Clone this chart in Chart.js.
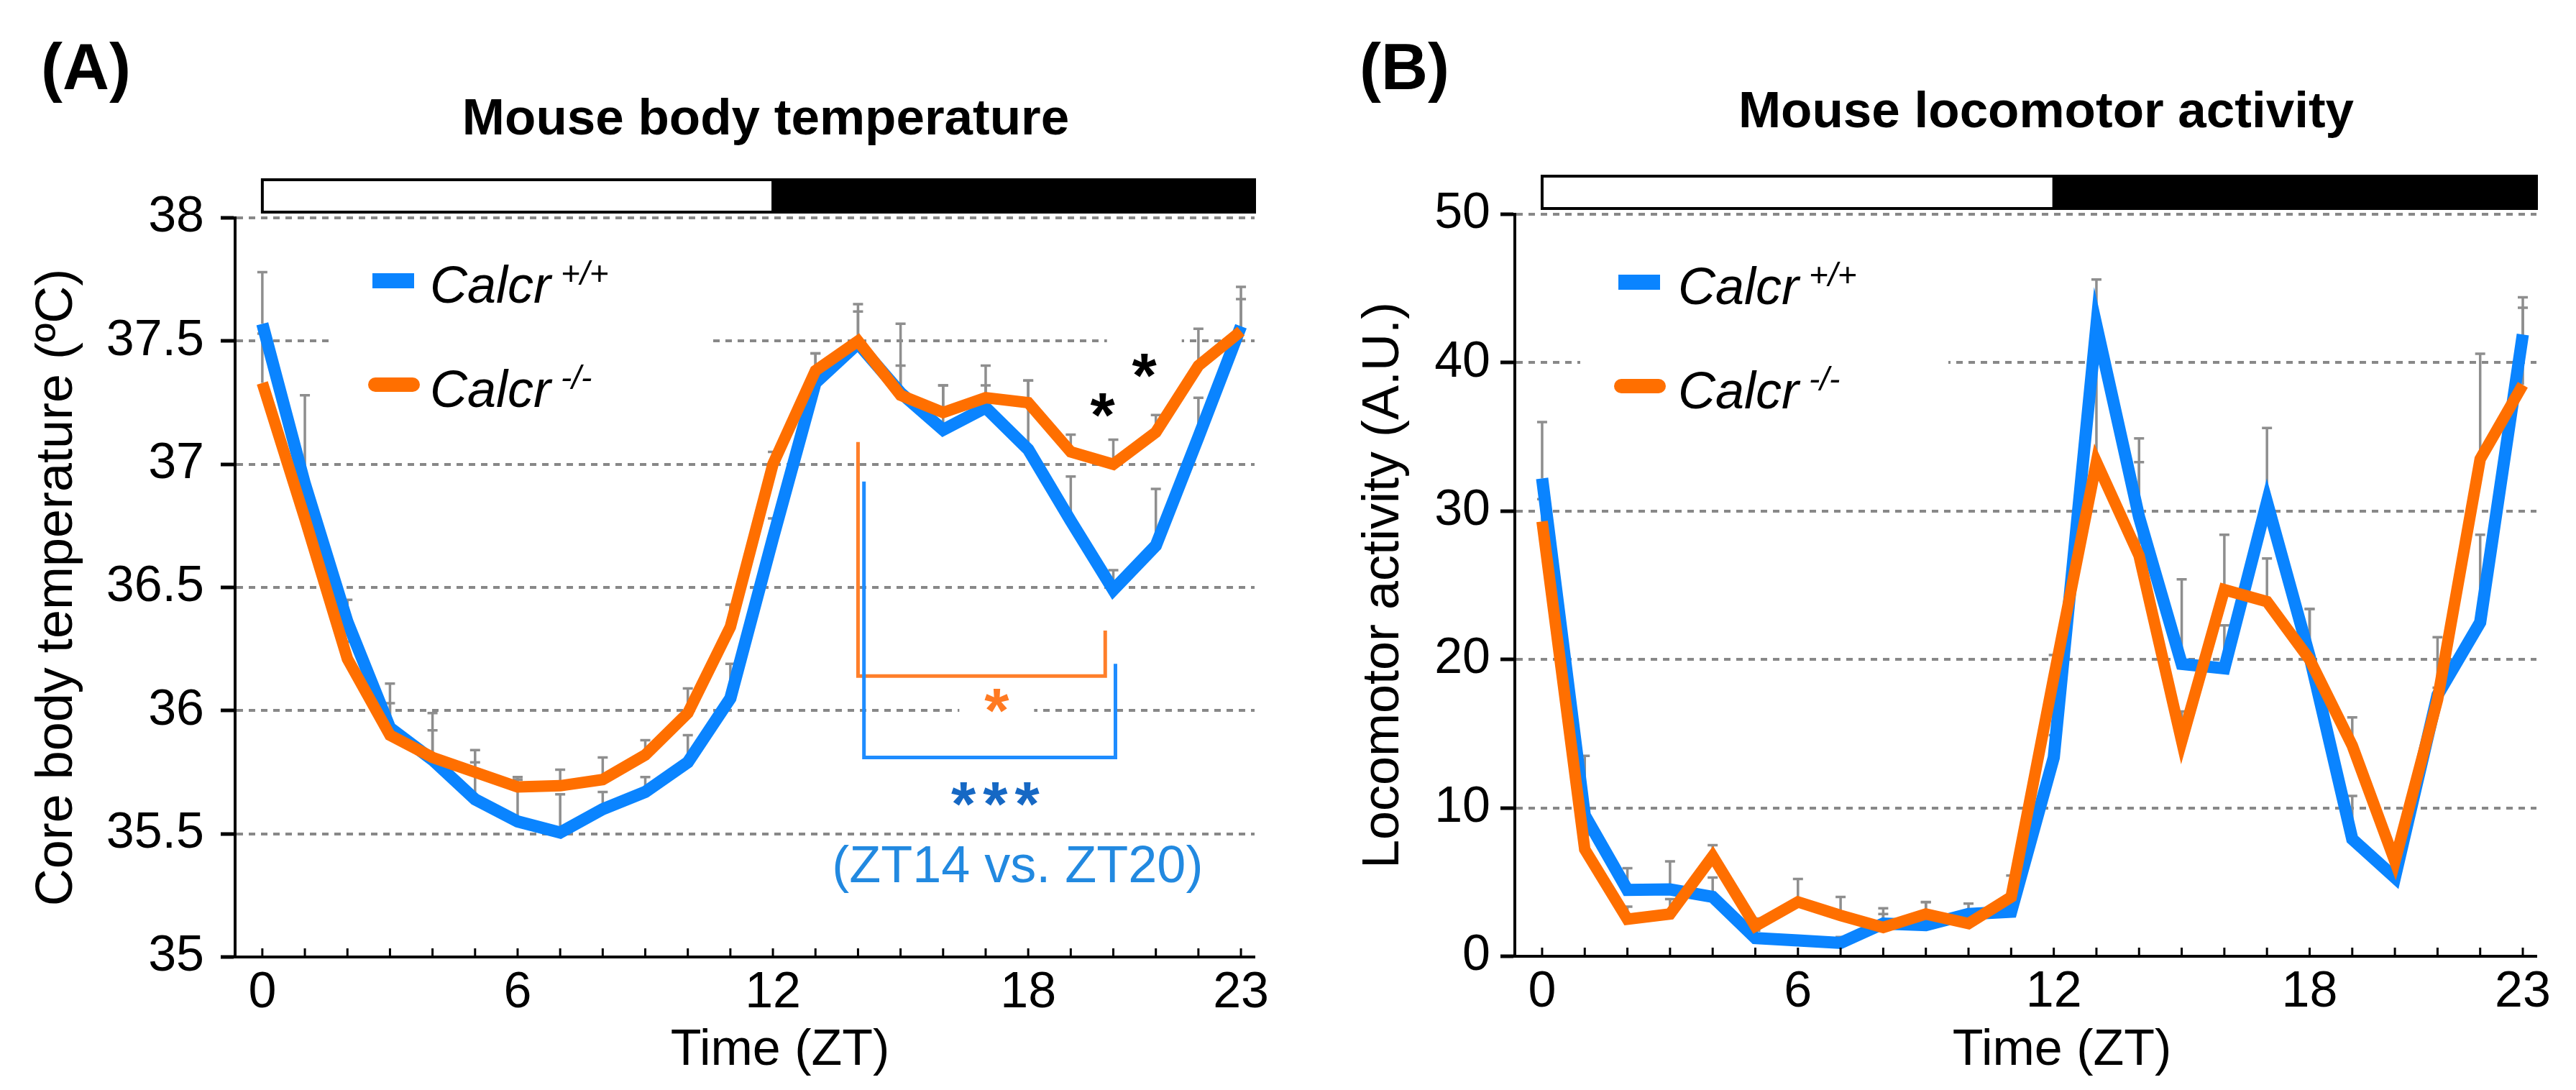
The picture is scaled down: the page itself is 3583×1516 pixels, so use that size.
<!DOCTYPE html>
<html>
<head>
<meta charset="utf-8">
<script src="https://cdn.jsdelivr.net/npm/chart.js@4/dist/chart.umd.min.js"></script>
<style>
  html, body { margin: 0; padding: 0; background: #fff; }
  body { width: 3583px; height: 1516px; position: relative; overflow: hidden; }
  canvas { position: absolute; top: 0; }
  #tempChart { left: 0; }
  #activityChart { left: 1790px; }
</style>
</head>
<body>
<canvas id="tempChart" width="1790" height="1516"></canvas>
<canvas id="activityChart" width="1793" height="1516"></canvas>
<script>
var hours = [0, 1, 2, 3, 4, 5, 6, 7, 8, 9, 10, 11, 12, 13, 14, 15, 16, 17, 18, 19, 20, 21, 22, 23];
var timeTicks = [0, 6, 12, 18, 23];
var tempTicks = [35, 35.5, 36, 36.5, 37, 37.5, 38];
var activityTicks = [0, 10, 20, 30, 40, 50];
var seriesNames = ['Calcr', 'Calcr'];
var genotypes = ['+/+', '-/-'];
var lightDark = [[0, 12, 'light'], [12, 24, 'dark']];

// (A) core body temperature, mean and SEM
var tempWild = [37.57, 36.92, 36.36, 35.93, 35.80, 35.64, 35.55, 35.505, 35.60, 35.67, 35.79, 36.05,
  36.70, 37.33, 37.49, 37.29, 37.14, 37.23, 37.06, 36.77, 36.49, 36.67, 37.11, 37.56];
var tempWildSem = [0.21, 0.36, 0.09, 0.18, 0.19, 0.20, 0.18, 0.155, 0.07, 0.06, 0.11, 0.14,
  0.08, 0.12, 0.16, 0.28, 0.18, 0.17, 0.28, 0.18, 0.08, 0.23, 0.16, 0.16];
var tempKO = [37.33, 36.78, 36.21, 35.90, 35.81, 35.75, 35.69, 35.695, 35.72, 35.82, 35.99, 36.34,
  37.00, 37.38, 37.50, 37.28, 37.21, 37.27, 37.25, 37.05, 37.00, 37.13, 37.40, 37.54];
var tempKOSem = [0.20, 0.10, 0.07, 0.13, 0.11, 0.04, 0.03, 0.065, 0.09, 0.06, 0.10, 0.09,
  0.05, 0.07, 0.12, 0.12, 0.11, 0.05, 0.09, 0.07, 0.10, 0.07, 0.15, 0.13];

// (B) locomotor activity, mean and SEM
var activityWild = [32.2, 9.5, 4.47, 4.5, 4.0, 1.23, 1.07, 0.9, 2.2, 2.1, 2.85, 3.0,
  13.4, 42.5, 29.6, 19.7, 19.4, 30.6, 20.2, 7.9, 5.3, 17.6, 22.5, 41.9];
var activityWildSem = [3.8, 4.0, 1.46, 1.9, 1.3, 0.5, 0.3, 0.4, 0.65, 1.56, 0.7, 0.6,
  1.5, 3.1, 5.3, 5.7, 2.9, 5.0, 3.2, 2.9, 0.6, 0.5, 5.9, 2.5];
var activityKO = [29.3, 7.2, 2.5, 2.85, 6.74, 2.04, 3.66, 2.75, 1.94, 2.85, 2.2, 4.0,
  18.8, 33.3, 27.0, 14.5, 24.7, 23.9, 20.0, 14.2, 6.4, 17.3, 33.5, 38.5];
var activityKOSem = [1.5, 1.0, 0.84, 1.0, 0.75, 0.5, 1.55, 1.25, 1.3, 0.8, 0.6, 1.44,
  1.5, 8.5, 6.3, 2.0, 3.7, 2.9, 3.4, 1.9, 0.5, 4.2, 7.1, 5.2];

// significance marks on panel A (ZT, value)
var tempStars = [
  { x: 19.75, y: 37.24, text: '*', color: '#000', font: 'bold 88px', mask: true },
  { x: 20.73, y: 37.40, text: '*', color: '#000', font: 'bold 88px', mask: true },
  { x: 17.26, y: 36.04, text: '*', color: '#ff7a22', font: 'bold 88px', mask: true },
  { x: 17.31, y: 35.66, text: '***', color: '#1668c4', font: 'bold 88px', spacing: '10px' }
];
var tempBrackets = [
  { from: 14.0, to: 19.81, top1: 37.09, top2: 36.325, base: 36.14, color: '#ff7f2a' },
  { from: 14.14, to: 20.05, top1: 36.93, top2: 36.19, base: 35.81, color: '#1e8cff' }
];
var tempNote = { x: 17.75, y: 35.38, text: '(ZT14 vs. ZT20)', color: '#2289e0' };

var BLUE = '#0a84ff';
var ORANGE = '#ff6f00';
var FONT = "'Liberation Sans', Arial, Helvetica, sans-serif";

Chart.defaults.font.family = FONT;
Chart.defaults.color = '#000';

function points(vals) {
  return hours.map(function (h, i) { return { x: h, y: vals[i] }; });
}

function decor(cfg) {
  return {
    id: 'decor',
    beforeDatasetsDraw: function (chart) {
      var ctx = chart.ctx, xs = chart.scales.x, ys = chart.scales.y, a = chart.chartArea;
      ctx.save();
      // white patches that break the dotted grid behind the legend and stars
      ctx.fillStyle = '#fff';
      var b = cfg.legend.box;
      ctx.fillRect(a.left + b[0], a.top + b[1], b[2], b[3]);
      (cfg.stars || []).forEach(function (m) {
        if (m.mask) ctx.fillRect(xs.getPixelForValue(m.x) - 52, ys.getPixelForValue(m.y) - 40, 104, 80);
      });
      // upward error bars (mean to mean + SEM)
      ctx.strokeStyle = '#8e8e8e';
      ctx.lineWidth = 3.5;
      cfg.errors.forEach(function (e) {
        hours.forEach(function (h, i) {
          var px = xs.getPixelForValue(h);
          var y0 = ys.getPixelForValue(e.mean[i]);
          var y1 = ys.getPixelForValue(e.mean[i] + e.sem[i]);
          ctx.beginPath();
          ctx.moveTo(px, y0);
          ctx.lineTo(px, y1);
          ctx.moveTo(px - 7, y1);
          ctx.lineTo(px + 7, y1);
          ctx.stroke();
        });
      });
      ctx.restore();
    },
    afterDraw: function (chart) {
      var ctx = chart.ctx, xs = chart.scales.x, ys = chart.scales.y, a = chart.chartArea;
      ctx.save();

      // light / dark bar
      var barTop = a.top - 55, barH = 49;
      lightDark.forEach(function (p) {
        var x0 = xs.getPixelForValue(p[0]);
        var x1 = Math.min(xs.getPixelForValue(p[1]), a.right + 2);
        if (p[2] === 'dark') {
          ctx.fillStyle = '#000';
          ctx.fillRect(x0, barTop, x1 - x0, barH);
        } else {
          ctx.strokeStyle = '#000';
          ctx.lineWidth = 4;
          ctx.strokeRect(x0, barTop + 2, x1 - x0, barH - 4);
        }
      });

      // hourly ticks pointing into the plot
      ctx.strokeStyle = '#000';
      ctx.lineWidth = 3;
      ctx.beginPath();
      hours.forEach(function (h) {
        var px = xs.getPixelForValue(h);
        ctx.moveTo(px, a.bottom);
        ctx.lineTo(px, a.bottom - 12);
      });
      ctx.stroke();

      // panel letter, title, x axis title
      ctx.fillStyle = '#000';
      ctx.textBaseline = 'alphabetic';
      ctx.textAlign = 'left';
      ctx.font = 'bold 90px ' + FONT;
      ctx.fillText(cfg.letter, cfg.letterX, 124);
      ctx.textAlign = 'center';
      ctx.font = 'bold 71px ' + FONT;
      ctx.fillText(cfg.title, cfg.titleX, cfg.titleY);
      ctx.font = '70px ' + FONT;
      ctx.fillText('Time (ZT)', cfg.xTitleX, 1481);

      // legend
      var L = cfg.legend;
      [BLUE, ORANGE].forEach(function (col, i) {
        var cy = a.top + L.y + i * L.gap;
        var mx = a.left + L.x;
        ctx.fillStyle = col;
        ctx.strokeStyle = col;
        if (i === 0) {
          ctx.fillRect(mx, cy - 10, 58, 21);
        } else {
          ctx.lineWidth = 20;
          ctx.lineCap = 'round';
          ctx.beginPath();
          ctx.moveTo(mx + 4, cy);
          ctx.lineTo(mx + 56, cy);
          ctx.stroke();
          ctx.lineCap = 'butt';
        }
        ctx.fillStyle = '#000';
        ctx.textAlign = 'left';
        ctx.font = 'italic 72px ' + FONT;
        var tx = mx + L.textDx, base = cy + 31;
        ctx.fillText(seriesNames[i], tx, base);
        var w = ctx.measureText(seriesNames[i]).width;
        ctx.font = 'italic 46px ' + FONT;
        ctx.fillText(genotypes[i], tx + w + 14, base - 25);
      });

      // brackets
      (cfg.brackets || []).forEach(function (b) {
        ctx.strokeStyle = b.color;
        ctx.lineWidth = 5;
        ctx.lineJoin = 'miter';
        ctx.beginPath();
        ctx.moveTo(xs.getPixelForValue(b.from), ys.getPixelForValue(b.top1));
        ctx.lineTo(xs.getPixelForValue(b.from), ys.getPixelForValue(b.base));
        ctx.lineTo(xs.getPixelForValue(b.to), ys.getPixelForValue(b.base));
        ctx.lineTo(xs.getPixelForValue(b.to), ys.getPixelForValue(b.top2));
        ctx.stroke();
      });

      // stars
      (cfg.stars || []).forEach(function (m) {
        ctx.font = m.font + ' ' + FONT;
        ctx.fillStyle = m.color;
        ctx.textAlign = 'center';
        ctx.letterSpacing = m.spacing || '0px';
        var mt = ctx.measureText(m.text);
        var lift = (mt.actualBoundingBoxAscent - mt.actualBoundingBoxDescent) / 2;
        ctx.fillText(m.text, xs.getPixelForValue(m.x), ys.getPixelForValue(m.y) + lift);
        ctx.letterSpacing = '0px';
      });

      if (cfg.note) {
        ctx.font = '72px ' + FONT;
        ctx.fillStyle = cfg.note.color;
        ctx.textAlign = 'center';
        ctx.fillText(cfg.note.text, xs.getPixelForValue(cfg.note.x), ys.getPixelForValue(cfg.note.y) + 26);
      }
      ctx.restore();
    }
  };
}

function buildChart(id, o) {
  return new Chart(document.getElementById(id), {
    type: 'line',
    data: {
      datasets: [
        { label: 'Calcr +/+', data: points(o.wild), borderColor: BLUE, borderWidth: 17, order: 1 },
        { label: 'Calcr -/-', data: points(o.ko), borderColor: ORANGE, borderWidth: 16, order: 0 }
      ]
    },
    options: {
      responsive: false,
      animation: false,
      devicePixelRatio: 1,
      events: [],
      layout: { padding: { left: 0, top: o.top, right: o.right, bottom: 0 } },
      elements: {
        point: { radius: 0 },
        line: { tension: 0, borderJoinStyle: 'miter', borderCapStyle: 'butt', fill: false }
      },
      plugins: { legend: { display: false }, tooltip: { enabled: false } },
      scales: {
        x: {
          type: 'linear',
          min: -0.64,
          max: 23.32,
          afterBuildTicks: function (s) { s.ticks = timeTicks.map(function (v) { return { value: v }; }); },
          afterFit: function (s) { s.height = o.xHeight; },
          grid: { drawOnChartArea: false, drawTicks: false },
          border: { color: '#000', width: 4 },
          ticks: { font: { size: 70 }, color: '#000', padding: 9, maxRotation: 0, autoSkip: false }
        },
        y: {
          min: o.yTicks[0],
          max: o.yTicks[o.yTicks.length - 1],
          afterBuildTicks: function (s) { s.ticks = o.yTicks.map(function (v) { return { value: v }; }); },
          afterFit: function (s) { s.width = o.yWidth; },
          grid: {
            color: function (c) { return c.tick && c.tick.value === o.yTicks[0] ? 'rgba(0,0,0,0)' : '#888888'; },
            lineWidth: 4,
            tickLength: 20,
            tickWidth: 5,
            tickColor: '#000'
          },
          border: { color: '#000', width: 4, dash: [9, 8] },
          ticks: {
            font: { size: 70 }, color: '#000', padding: o.yPad,
            callback: function (v) { return String(v); }
          },
          title: {
            display: true, text: o.yTitle, color: '#000',
            font: { size: 72 }, padding: { top: o.yTitlePad, bottom: 0 }
          }
        }
      }
    },
    plugins: [decor(o.decor)]
  });
}

buildChart('tempChart', {
  wild: tempWild, ko: tempKO, yTicks: tempTicks,
  top: 303, right: 45, yWidth: 327, xHeight: 185, yPad: 23, yTitlePad: 37,
  yTitle: 'Core body temperature (ºC)',
  decor: {
    letter: '(A)', letterX: 57, title: 'Mouse body temperature', titleX: 1065, titleY: 187, xTitleX: 1085,
    legend: { x: 191, y: 87, gap: 145, textDx: 80, box: [138, 27, 520, 260] },
    errors: [{ mean: tempWild, sem: tempWildSem }, { mean: tempKO, sem: tempKOSem }],
    stars: tempStars, brackets: tempBrackets, note: tempNote
  }
});

buildChart('activityChart', {
  wild: activityWild, ko: activityKO, yTicks: activityTicks,
  top: 298, right: 55, yWidth: 317, xHeight: 186, yPad: 14, yTitlePad: 92,
  yTitle: 'Locomotor activity (A.U.)',
  decor: {
    letter: '(B)', letterX: 101, title: 'Mouse locomotor activity', titleX: 1056, titleY: 177, xTitleX: 1078,
    legend: { x: 144, y: 94, gap: 145, textDx: 83, box: [91, 27, 512, 260] },
    errors: [{ mean: activityWild, sem: activityWildSem }, { mean: activityKO, sem: activityKOSem }]
  }
});
</script>
</body>
</html>
